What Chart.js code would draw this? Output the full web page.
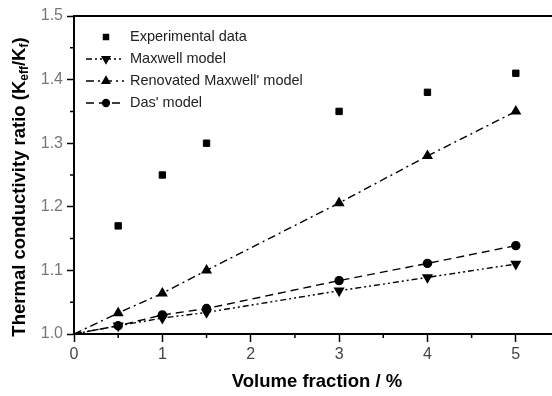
<!DOCTYPE html>
<html>
<head>
<meta charset="utf-8">
<script src="https://cdn.jsdelivr.net/npm/chart.js@4/dist/chart.umd.min.js"></script>
<style>
html, body { margin: 0; padding: 0; background: #fff; overflow: hidden; }
#wrap { width: 570px; height: 396px; }
</style>
</head>
<body>
<div id="wrap"><canvas id="chart" width="570" height="396"></canvas></div>
<script>
// data
var volumeFraction = [0, 0.5, 1, 1.5, 3, 4, 5];
var experimental = [null, 1.17, 1.25, 1.30, 1.35, 1.38, 1.41];
var maxwell = [1.0, 1.013, 1.025, 1.034, 1.068, 1.089, 1.11];
var renovated = [1.0, 1.033, 1.064, 1.10, 1.206, 1.28, 1.35];
var das = [1.0, 1.013, 1.03, 1.04, 1.084, 1.111, 1.139];
var seriesNames = ['Experimental data', 'Maxwell model', "Renovated Maxwell' model", "Das' model"];
var xTicks = [0, 1, 2, 3, 4, 5];
var yTicks = [1.0, 1.1, 1.2, 1.3, 1.4, 1.5];

var FONT = "'Liberation Sans', Arial, sans-serif";

function pts(ys) {
    return volumeFraction.map(function(x, i) { return {x: x, y: ys[i]}; });
}
// no marker at the origin for the model curves
function radiusNoOrigin(r) {
    return function(ctx) { return ctx.dataIndex === 0 ? 0 : r; };
}

var decorations = {
    id: 'decorations',
    afterDraw: function(chart) {
        var ctx = chart.ctx;
        var area = chart.chartArea;
        var xs = chart.scales.x, ys = chart.scales.y;
        ctx.save();

        // top frame line
        ctx.strokeStyle = '#000';
        ctx.lineWidth = 2;
        ctx.beginPath();
        ctx.moveTo(area.left, area.top);
        ctx.lineTo(chart.width, area.top);
        ctx.stroke();

        // minor ticks
        ctx.lineWidth = 1.5;
        ctx.beginPath();
        for (var i = 0; i < xTicks.length; i++) {
            var mx = xs.getPixelForValue(xTicks[i] + 0.5);
            ctx.moveTo(mx, area.bottom);
            ctx.lineTo(mx, area.bottom + 4);
        }
        for (var j = 0; j < yTicks.length - 1; j++) {
            var my = ys.getPixelForValue(yTicks[j] + 0.05);
            ctx.moveTo(area.left, my);
            ctx.lineTo(area.left - 4, my);
        }
        ctx.stroke();

        // legend inside the plot
        ctx.font = '14.5px ' + FONT;
        ctx.textBaseline = 'middle';
        chart.data.datasets.forEach(function(ds, k) {
            var y = area.top + 21 + k * 22;
            var x0 = area.left + 12, x1 = area.left + 50, xm = area.left + 32;
            if (ds.showLine !== false) {
                ctx.strokeStyle = '#000';
                ctx.lineWidth = 1.3;
                ctx.setLineDash(ds.borderDash || []);
                ctx.beginPath();
                ctx.moveTo(x0, y);
                ctx.lineTo(x1, y);
                ctx.stroke();
                ctx.setLineDash([]);
            }
            ctx.fillStyle = '#000';
            Chart.helpers.drawPoint(ctx, {
                pointStyle: ds.pointStyle,
                rotation: ds.pointRotation || 0,
                radius: ds.legendRadius,
                borderWidth: 1
            }, xm, y);
            ctx.fillStyle = '#222';
            ctx.fillText(ds.label, area.left + 56, y);
        });

        // y axis title with subscripts
        var parts = [
            ['Thermal conductivity ratio (K', false],
            ['eff', true],
            ['/K', false],
            ['f', true],
            [')', false]
        ];
        var big = 'bold 18.5px ' + FONT, small = 'bold 12px ' + FONT;
        var total = 0;
        parts.forEach(function(p) { ctx.font = p[1] ? small : big; total += ctx.measureText(p[0]).width; });
        ctx.translate(20, (area.top + area.bottom) / 2 + 12);
        ctx.rotate(-Math.PI / 2);
        ctx.fillStyle = '#000';
        ctx.textBaseline = 'middle';
        var cx = -total / 2;
        parts.forEach(function(p) {
            ctx.font = p[1] ? small : big;
            ctx.fillText(p[0], cx, p[1] ? 5 : 0);
            cx += ctx.measureText(p[0]).width;
        });
        ctx.restore();
    }
};

var ctxMain = document.getElementById('chart').getContext('2d');
var chart = new Chart(ctxMain, {
    type: 'scatter',
    data: {
        datasets: [
            {
                label: seriesNames[0],
                data: pts(experimental),
                showLine: false,
                pointStyle: 'rect',
                pointRadius: 4.5,
                legendRadius: 3.5,
                backgroundColor: '#000',
                borderColor: '#000'
            },
            {
                label: seriesNames[1],
                data: pts(maxwell),
                showLine: true,
                borderColor: '#000',
                backgroundColor: '#000',
                borderWidth: 1.4,
                borderDash: [6, 3, 2, 3, 2, 3],
                pointStyle: 'triangle',
                pointRotation: 180,
                pointRadius: radiusNoOrigin(5),
                legendRadius: 4.5
            },
            {
                label: seriesNames[2],
                data: pts(renovated),
                showLine: true,
                borderColor: '#000',
                backgroundColor: '#000',
                borderWidth: 1.4,
                borderDash: [8, 4, 2, 4],
                pointStyle: 'triangle',
                pointRadius: radiusNoOrigin(5),
                legendRadius: 4.5
            },
            {
                label: seriesNames[3],
                data: pts(das),
                showLine: true,
                borderColor: '#000',
                backgroundColor: '#000',
                borderWidth: 1.4,
                borderDash: [8, 5],
                pointStyle: 'circle',
                pointRadius: radiusNoOrigin(4),
                legendRadius: 3.5
            }
        ]
    },
    options: {
        responsive: false,
        animation: false,
        devicePixelRatio: 1,
        layout: {
            autoPadding: false,
            padding: { left: 0, top: 16, right: 10, bottom: 0 }
        },
        plugins: {
            legend: { display: false },
            tooltip: { enabled: false }
        },
        scales: {
            x: {
                type: 'linear',
                min: 0,
                max: 5.5,
                afterBuildTicks: function(s) { s.ticks = xTicks.map(function(v) { return {value: v}; }); },
                afterFit: function(s) { s.height = 62; },
                grid: { drawOnChartArea: false, tickLength: 8, tickColor: '#000', tickWidth: 1.5 },
                border: { color: '#000', width: 2 },
                ticks: { color: '#444', padding: 3, font: { family: FONT, size: 16 } },
                title: {
                    display: true,
                    text: 'Volume fraction / %',
                    color: '#000',
                    padding: { top: 4, bottom: 3 },
                    font: { family: FONT, size: 18.5, weight: 'bold' }
                }
            },
            y: {
                min: 1.0,
                max: 1.5,
                afterBuildTicks: function(s) { s.ticks = yTicks.map(function(v) { return {value: v}; }); },
                afterFit: function(s) { s.width = 74; },
                grid: { drawOnChartArea: false, tickLength: 7, tickColor: '#000', tickWidth: 1.5 },
                border: { color: '#000', width: 2 },
                ticks: {
                    color: '#777',
                    padding: 4,
                    font: { family: FONT, size: 16 },
                    callback: function(v) { return v.toFixed(1); }
                }
            }
        }
    },
    plugins: [decorations]
});
</script>
</body>
</html>
